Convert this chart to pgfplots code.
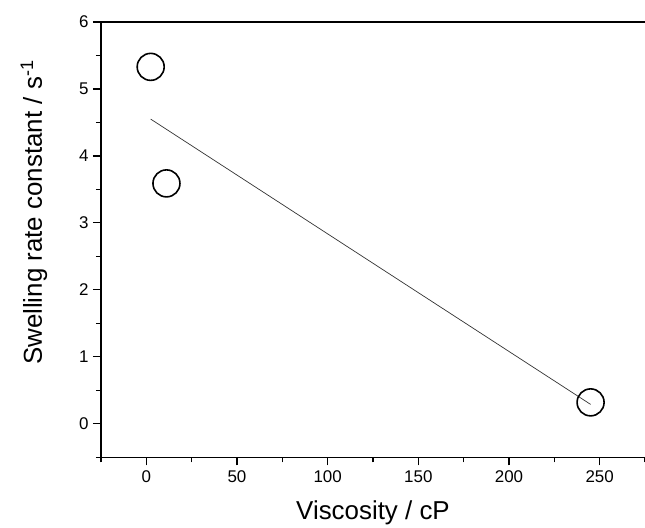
\documentclass[border=0pt]{standalone}
\usepackage{fontspec}
\setmainfont{Liberation Sans}
\usepackage{pgfplots}
\pgfplotsset{compat=1.18}
\begin{document}
\begin{tikzpicture}
\begin{axis}[
  scale only axis, width=544bp, height=435.3bp,
  xmin=-25, xmax=275, ymin=-0.5, ymax=6,
  axis x line*=bottom, axis y line*=left,
  axis line style={-, line width=1.4bp, black},
  xtick={0,50,...,250}, minor xtick={-25,25,75,125,175,225,275},
  ytick={0,1,...,6}, minor ytick={-0.5,0.5,...,5.5},
  tick align=outside,
  major tick length=8bp, minor tick length=5bp,
  tick style={line width=1.2bp, black},
  /pgf/number format/assume math mode=true,
  xticklabel={\fontsize{17}{17}\selectfont\pgfmathprintnumber{\tick}},
  yticklabel={\fontsize{17}{17}\selectfont\pgfmathprintnumber{\tick}},
  xticklabel style={yshift=-2bp},
  yticklabel style={xshift=-1bp},
  xlabel={Viscosity / cP},
  ylabel={Swelling rate constant / s\textsuperscript{-1}},
  label style={font=\fontsize{26}{26}\selectfont},
  xlabel style={at={([yshift=-62.7bp]rel axis cs:0.5,0)}, anchor=base},
  ylabel style={at={([xshift=-59bp]rel axis cs:0,0.562)}, anchor=base, rotate=0},
  clip=false,
]
\addplot[only marks, mark=o, mark size=13.5bp, mark options={line width=1.6bp, black}]
  coordinates {(2.4,5.33) (11.1,3.59) (245,0.32)};
\addplot[black!80, line width=0.7bp] coordinates {(2.4,4.55) (245,0.29)};
\draw[line width=1.4bp, black] (rel axis cs:0,1) -- (rel axis cs:1,1);
\coordinate (bl) at (rel axis cs:0,0);
\coordinate (tr) at (rel axis cs:1,1);
\end{axis}
\pgfresetboundingbox
\useasboundingbox ([xshift=-101bp, yshift=-70.7bp]bl) rectangle ([yshift=22bp]tr);
\end{tikzpicture}
\end{document}
